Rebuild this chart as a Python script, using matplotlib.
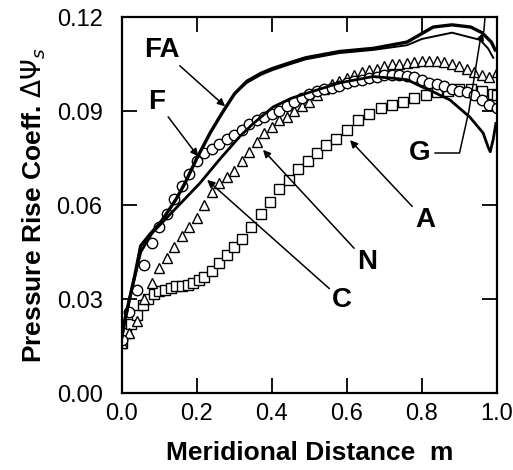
import matplotlib
matplotlib.use("Agg")
import matplotlib.pyplot as plt

# FA - upper thick line
fa_m = [0.0, 0.005, 0.02, 0.035, 0.05, 0.077, 0.10, 0.123, 0.145, 0.168, 0.20, 0.235, 0.265,
        0.30, 0.333, 0.37, 0.40, 0.45, 0.49, 0.58, 0.67, 0.76, 0.83, 0.88, 0.93, 0.96, 0.985, 0.995]
fa_v = [0.018, 0.022, 0.030, 0.038, 0.047, 0.051, 0.054, 0.058, 0.062, 0.067, 0.075, 0.083,
        0.089, 0.0955, 0.0995, 0.102, 0.1035, 0.1055, 0.107, 0.109, 0.110, 0.112, 0.1168,
        0.1175, 0.1168, 0.115, 0.112, 0.1095]

# F - thin line following FA, drops below it near the trailing edge
f_m = [0.0, 0.005, 0.02, 0.035, 0.05, 0.077, 0.10, 0.123, 0.145, 0.168, 0.20, 0.235, 0.265,
       0.30, 0.333, 0.37, 0.40, 0.45, 0.49, 0.58, 0.67, 0.76, 0.80, 0.88, 0.955, 0.976, 0.99]
f_v = [0.018, 0.022, 0.030, 0.038, 0.047, 0.051, 0.054, 0.058, 0.062, 0.067, 0.075, 0.083,
       0.089, 0.0955, 0.099, 0.1015, 0.103, 0.105, 0.1065, 0.1085, 0.1095, 0.111, 0.113,
       0.115, 0.1127, 0.110, 0.107]

# G - lower solid line with dip at trailing edge
g_m = [0.0, 0.02, 0.05, 0.08, 0.12, 0.16, 0.208, 0.26, 0.315, 0.35, 0.403, 0.45, 0.493, 0.52,
       0.581, 0.669, 0.72, 0.76, 0.80, 0.82, 0.875, 0.928, 0.963, 0.976, 0.982, 0.99, 0.997]
g_v = [0.018, 0.030, 0.045, 0.051, 0.056, 0.061, 0.067, 0.0745, 0.082, 0.086, 0.0913, 0.094,
       0.0957, 0.0967, 0.099, 0.101, 0.1005, 0.100, 0.0977, 0.0967, 0.0935, 0.088, 0.083,
       0.0786, 0.077, 0.081, 0.086]

# C - circles
c_m = [0.00, 0.02, 0.04, 0.06, 0.08, 0.10, 0.12, 0.14, 0.16, 0.18, 0.20, 0.22, 0.24, 0.26,
       0.28, 0.30, 0.32, 0.34, 0.36, 0.38, 0.40, 0.42, 0.44, 0.46, 0.48, 0.50, 0.52, 0.54,
       0.56, 0.58, 0.60, 0.62, 0.64, 0.66, 0.68, 0.70, 0.72, 0.74, 0.76, 0.78, 0.80, 0.82,
       0.84, 0.86, 0.88, 0.90, 0.92, 0.94, 0.96, 0.98, 1.00]
c_v = [0.017, 0.026, 0.033, 0.041, 0.048, 0.053, 0.057, 0.062, 0.066, 0.070, 0.074, 0.0765,
       0.078, 0.0795, 0.081, 0.0825, 0.084, 0.086, 0.087, 0.088, 0.089, 0.090, 0.0915, 0.093,
       0.094, 0.0955, 0.0965, 0.097, 0.0975, 0.098, 0.099, 0.0995, 0.100, 0.1005, 0.101,
       0.1015, 0.1015, 0.1015, 0.1012, 0.101, 0.100, 0.099, 0.0985, 0.098, 0.097, 0.0965,
       0.096, 0.095, 0.0935, 0.092, 0.091]

# N - triangles
n_m = [0.00, 0.02, 0.04, 0.06, 0.08, 0.10, 0.12, 0.14, 0.16, 0.18, 0.20, 0.22, 0.24, 0.26,
       0.28, 0.30, 0.32, 0.34, 0.36, 0.38, 0.40, 0.42, 0.44, 0.46, 0.48, 0.50, 0.52, 0.54,
       0.56, 0.58, 0.60, 0.62, 0.64, 0.66, 0.68, 0.70, 0.72, 0.74, 0.76, 0.78, 0.80, 0.82,
       0.84, 0.86, 0.88, 0.90, 0.92, 0.94, 0.96, 0.98, 1.00]
n_v = [0.016, 0.019, 0.023, 0.030, 0.035, 0.040, 0.043, 0.0465, 0.050, 0.053, 0.056, 0.060,
       0.064, 0.067, 0.069, 0.071, 0.074, 0.077, 0.080, 0.083, 0.085, 0.087, 0.088, 0.090,
       0.0915, 0.093, 0.095, 0.097, 0.0985, 0.0995, 0.1005, 0.1015, 0.1025, 0.103, 0.1035,
       0.1045, 0.105, 0.105, 0.1052, 0.1055, 0.106, 0.106, 0.106, 0.1055, 0.105, 0.1045,
       0.1035, 0.1025, 0.1015, 0.101, 0.1025]

# A - squares
a_m = [0.0, 0.012, 0.025, 0.04, 0.055, 0.07, 0.085, 0.10, 0.115, 0.13, 0.145, 0.16, 0.175,
       0.19, 0.205, 0.22, 0.24, 0.26, 0.28, 0.30, 0.32, 0.345, 0.37, 0.395, 0.42, 0.445, 0.47,
       0.495, 0.52, 0.545, 0.57, 0.60, 0.63, 0.66, 0.69, 0.72, 0.75, 0.78, 0.81, 0.84, 0.87,
       0.90, 0.93, 0.96, 0.99, 1.0]
a_v = [0.016, 0.019, 0.022, 0.025, 0.028, 0.030, 0.0315, 0.0325, 0.033, 0.0335, 0.034, 0.034,
       0.0345, 0.035, 0.036, 0.037, 0.039, 0.0415, 0.044, 0.0465, 0.049, 0.053, 0.057, 0.061,
       0.065, 0.068, 0.0715, 0.074, 0.0765, 0.079, 0.081, 0.084, 0.087, 0.089, 0.091, 0.092,
       0.093, 0.094, 0.095, 0.096, 0.0965, 0.097, 0.097, 0.0965, 0.0955, 0.095]

xticks = [0.0, 0.2, 0.4, 0.6, 0.8, 1.0]
yticks = [0.00, 0.03, 0.06, 0.09, 0.12]

plt.rcParams['font.family'] = ['Liberation Sans', 'DejaVu Sans']

fig = plt.figure(figsize=(5.13, 4.70), dpi=100)
ax = fig.add_axes([0.2378, 0.1638, 0.731, 0.800])

mk = dict(mfc='white', mec='black', mew=1.0, ls='none')
ax.plot(a_m, a_v, marker='s', ms=7, **mk)
ax.plot(n_m, n_v, marker='^', ms=7, **mk)
ax.plot(c_m, c_v, marker='o', ms=7.5, **mk)
ax.plot(g_m, g_v, color='black', lw=2.0)
ax.plot(f_m, f_v, color='black', lw=1.4)
ax.plot(fa_m, fa_v, color='black', lw=2.4)

ax.set_xlim(0, 1.0)
ax.set_ylim(0, 0.12)
ax.set_xticks(xticks)
ax.set_yticks(yticks)
ax.set_xticklabels(['%.1f' % t for t in xticks])
ax.set_yticklabels(['%.2f' % t for t in yticks])
ax.tick_params(direction='in', length=11, width=1.3, labelsize=17,
               top=True, right=True)
ax.tick_params(axis='x', pad=7)
ax.tick_params(axis='y', pad=14)
for s in ax.spines.values():
    s.set_linewidth(1.6)

ax.set_xlabel('Meridional Distance  m', fontsize=19, fontweight='bold', labelpad=12)
ax.set_ylabel(r'Pressure Rise Coeff. $\Delta\Psi_s$', fontsize=19, fontweight='bold',
              labelpad=6)

arr = dict(arrowstyle='-|>', color='black', lw=1.1, mutation_scale=11,
           shrinkA=0, shrinkB=0)
lab = dict(fontsize=20, fontweight='bold', ha='center', va='center')

ax.annotate('FA', xy=(0.275, 0.0915), xytext=(0.107, 0.1095), arrowprops=arr, **lab)
ax.annotate('F', xy=(0.203, 0.0755), xytext=(0.093, 0.0929), arrowprops=arr, **lab)
ax.annotate('C', xy=(0.227, 0.068), xytext=(0.587, 0.0297), arrowprops=arr, **lab)
ax.annotate('N', xy=(0.376, 0.0776), xytext=(0.653, 0.0418), arrowprops=arr, **lab)
ax.annotate('A', xy=(0.608, 0.0807), xytext=(0.808, 0.0552), arrowprops=arr, **lab)
ax.text(0.795, 0.0766, 'G', **lab)
# leader for G, running up to the top frame
g_lead_m = [0.835, 0.90, 0.925, 0.955, 0.965, 0.968]
g_lead_v = [0.0766, 0.0766, 0.090, 0.1125, 0.1155, 0.12]
ax.plot(g_lead_m, g_lead_v, color='black', lw=1.1)
ax.annotate('', xy=(0.963, 0.1150), xytext=(0.955, 0.1125), arrowprops=arr)

fig.savefig('out.png', dpi=100)
